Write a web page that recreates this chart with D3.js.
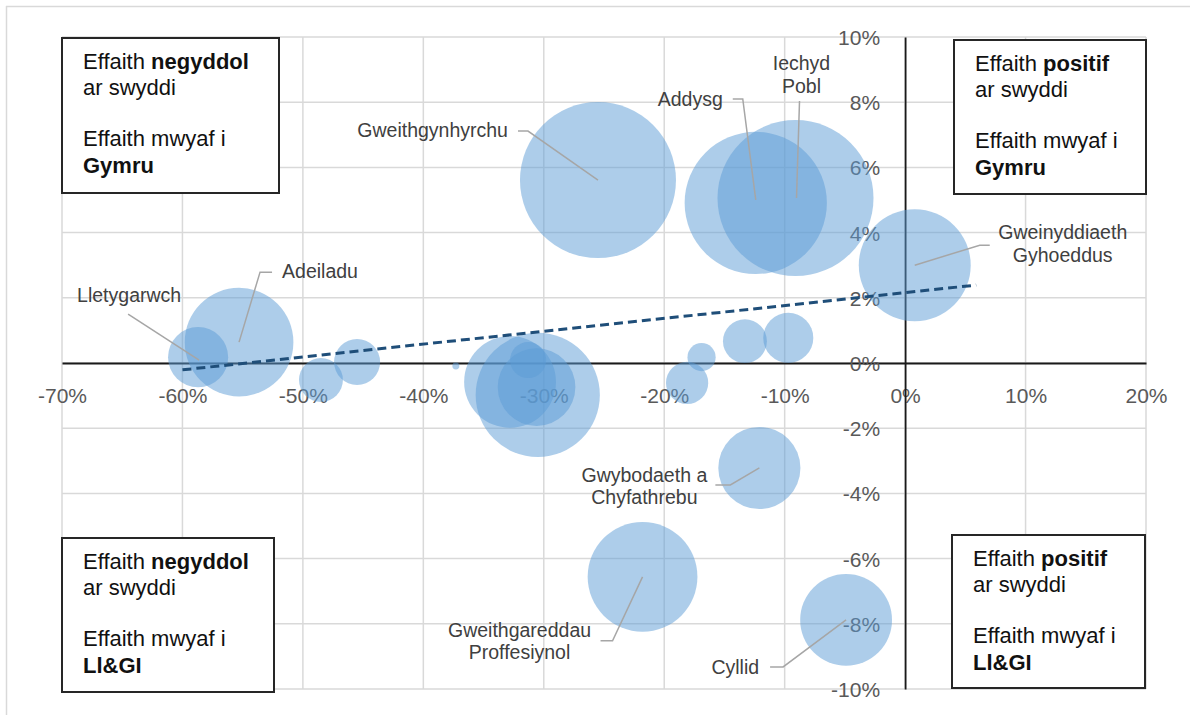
<!DOCTYPE html>
<html>
<head>
<meta charset="utf-8">
<script src="https://cdn.jsdelivr.net/npm/d3@7"></script>
<style>
  html, body { margin: 0; padding: 0; background: #fff; }
  svg { display: block; font-family: "Liberation Sans", Arial, sans-serif; }
</style>
</head>
<body>
<svg id="chart" width="1190" height="715"></svg>
<script>
// ---------------- DATA ----------------
const sectorNames = [
  "Gweithgynhyrchu", "Addysg", "Iechyd Pobl", "Gweinyddiaeth Gyhoeddus",
  "Adeiladu", "Lletygarwch", "Gwybodaeth a Chyfathrebu",
  "Gweithgareddau Proffesiynol", "Cyllid",
  null, null, null, null, null, null, null, null, null, null, null
];
// x: effect on jobs (%), y: extra effect on Wales vs rest (%), size: bubble size
const xValues = [-25.5, -12.4, -9.1, 0.8, -55.3, -58.7, -12.1, -21.8, -4.9,
                 -48.5, -45.5, -37.3, -32.8, -30.5, -30.6, -31.3, -16.9, -18.1, -13.3, -9.7];
const yValues = [5.61, 4.91, 5.06, 3.0, 0.64, 0.18, -3.22, -6.56, -7.88,
                 -0.52, 0.03, -0.09, -0.58, -0.98, -0.74, 0.09, 0.18, -0.61, 0.67, 0.77];
const sizes   = [101, 84, 101, 52, 49, 15, 28, 50, 35,
                 8, 8.8, 0.2, 35, 64, 25, 5.4, 3.3, 7.4, 8, 10.4];

const xTicks = [-70, -60, -50, -40, -30, -20, -10, 0, 10, 20];
const yTicks = [-10, -8, -6, -4, -2, 0, 2, 4, 6, 8, 10];

// trend line end points
const trendX = [-60, 5.9];
const trendY = [-0.21, 2.39];

// quadrant boxes
const boxTexts = [
  { l1a: "Effaith ", l1b: "negyddol", l3: "Effaith mwyaf i", l4: "Gymru" },
  { l1a: "Effaith ", l1b: "positif",  l3: "Effaith mwyaf i", l4: "Gymru" },
  { l1a: "Effaith ", l1b: "negyddol", l3: "Effaith mwyaf i", l4: "Ll&GI" },
  { l1a: "Effaith ", l1b: "positif",  l3: "Effaith mwyaf i", l4: "Ll&GI" }
];

// ---------------- LAYOUT ----------------
const plot = { left: 62, right: 1146, top: 37, bottom: 689 };
const boxRects = [
  { x: 62,  y: 38,  w: 217, h: 155 },
  { x: 954, y: 40,  w: 192, h: 154 },
  { x: 62,  y: 538, w: 212, h: 154 },
  { x: 952, y: 535, w: 193, h: 153 }
];
// label layout: offsets from bubble centre (px)
const labelLayout = {
  0: { lines: ["Gweithgynhyrchu"], anchor: "end", dx: -90, dy: -43, leader: [[-80,-49],[-70,-49],[0,0]] },
  1: { lines: ["Addysg"], anchor: "end", dx: -33, dy: -97, leader: [[-23,-104],[-13,-104],[0,-3]] },
  2: { lines: ["Iechyd", "Pobl"], anchor: "middle", dx: 6, dy: -128, leader: [[4,-97],[1,0]] },
  3: { lines: ["Gweinyddiaeth", "Gyhoeddus"], anchor: "middle", dx: 148, dy: -26, leader: [[75,-20],[65,-20],[0,0]] },
  4: { lines: ["Adeiladu"], anchor: "start", dx: 43, dy: -64, leader: [[33,-70],[21,-70],[0,0]] },
  5: { lines: ["Lletygarwch"], anchor: "start", dx: -121, dy: -55, leader: [[-70,-43],[1,3]] },
  6: { lines: ["Gwybodaeth a", "Chyfathrebu"], anchor: "middle", dx: -115, dy: 14, leader: [[-44,17],[-29,17],[0,0]] },
  7: { lines: ["Gweithgareddau", "Proffesiynol"], anchor: "middle", dx: -123, dy: 60, leader: [[-42,64],[-30,64],[0,0]] },
  8: { lines: ["Cyllid"], anchor: "end", dx: -87, dy: 54, leader: [[-76,47],[-63,47],[0,0]] }
};

// ---------------- DRAW ----------------
const svg = d3.select("#chart");

const x = d3.scaleLinear().domain([-70, 20]).range([plot.left, plot.right]);
const y = d3.scaleLinear().domain([-10, 10]).range([plot.bottom, plot.top]);
const r = d3.scaleSqrt().domain([0, 101]).range([0, 78]);

// outer frame (top & left visible)
svg.append("line").attr("x1", 6).attr("x2", 1190).attr("y1", 6.5).attr("y2", 6.5)
  .attr("stroke", "#d9d9d9").attr("stroke-width", 1.5);
svg.append("line").attr("x1", 6.5).attr("x2", 6.5).attr("y1", 6).attr("y2", 715)
  .attr("stroke", "#d9d9d9").attr("stroke-width", 1.5);

// gridlines
const grid = svg.append("g");
grid.selectAll("line.v").data(xTicks).join("line")
  .attr("x1", d => x(d)).attr("x2", d => x(d))
  .attr("y1", plot.top).attr("y2", plot.bottom)
  .attr("stroke", "#d9d9d9").attr("stroke-width", 1.5);
grid.selectAll("line.h").data(yTicks).join("line")
  .attr("y1", d => y(d)).attr("y2", d => y(d))
  .attr("x1", plot.left).attr("x2", plot.right)
  .attr("stroke", "#d9d9d9").attr("stroke-width", 1.5);

// axes (crossing at 0)
const xAxis = d3.axisBottom(x).tickValues(xTicks).tickSize(0).tickFormat(d => d + "%");
const yAxis = d3.axisLeft(y).tickValues(yTicks).tickSize(0).tickFormat(d => d + "%");

const gx = svg.append("g").attr("transform", `translate(0,${y(0)})`).call(xAxis);
gx.select(".domain").attr("stroke", "#1a1a1a").attr("stroke-width", 1.8);
gx.selectAll("text").attr("font-size", 21).attr("fill", "#595959")
  .attr("font-family", "Liberation Sans, Arial, sans-serif").attr("dy", null).attr("y", 40);

const gy = svg.append("g").attr("transform", `translate(${x(0)},0)`).call(yAxis);
gy.select(".domain").attr("stroke", "#1a1a1a").attr("stroke-width", 1.8);
gy.selectAll("text").attr("font-size", 21).attr("fill", "#595959")
  .attr("font-family", "Liberation Sans, Arial, sans-serif").attr("x", -25).attr("dy", "0.36em");

// bubbles
const data = xValues.map((v, i) => ({ name: sectorNames[i], x: v, y: yValues[i], s: sizes[i], i }));
svg.append("g").selectAll("circle").data(data).join("circle")
  .attr("cx", d => x(d.x)).attr("cy", d => y(d.y)).attr("r", d => r(d.s))
  .attr("fill", "#5b9bd5").attr("fill-opacity", 0.5);

// trend line
svg.append("line")
  .attr("x1", x(trendX[0])).attr("y1", y(trendY[0]))
  .attr("x2", x(trendX[1])).attr("y2", y(trendY[1]))
  .attr("stroke", "#1f4e79").attr("stroke-width", 3)
  .attr("stroke-dasharray", "9,5");

// labels + leaders
const lab = svg.append("g");
data.forEach(d => {
  const L = labelLayout[d.i];
  if (!L) return;
  const cx = x(d.x), cy = y(d.y);
  const pts = L.leader.map(p => [cx + p[0], cy + p[1]]);
  lab.append("path").attr("d", d3.line()(pts))
    .attr("fill", "none").attr("stroke", "#a6a6a6").attr("stroke-width", 1.5);
  const t = lab.append("text")
    .attr("x", cx + L.dx).attr("y", cy + L.dy)
    .attr("text-anchor", L.anchor).attr("font-size", 19.5).attr("fill", "#404040");
  L.lines.forEach((line, k) => {
    t.append("tspan").attr("x", cx + L.dx).attr("dy", k === 0 ? 0 : 22.5).text(line);
  });
});

// quadrant boxes
const boxes = svg.append("g");
boxRects.forEach((b, i) => {
  const bt = boxTexts[i];
  const g = boxes.append("g");
  g.append("rect").attr("x", b.x).attr("y", b.y).attr("width", b.w).attr("height", b.h)
    .attr("fill", "#fff").attr("stroke", "#262626").attr("stroke-width", 2);
  const tx = b.x + 21;
  const t1 = g.append("text").attr("x", tx).attr("y", b.y + 31).attr("font-size", 22).attr("fill", "#111");
  t1.append("tspan").text(bt.l1a);
  t1.append("tspan").attr("font-weight", "bold").text(bt.l1b);
  g.append("text").attr("x", tx).attr("y", b.y + 57).attr("font-size", 22).attr("fill", "#111").text("ar swyddi");
  g.append("text").attr("x", tx).attr("y", b.y + 108).attr("font-size", 22).attr("fill", "#111").text(bt.l3);
  g.append("text").attr("x", tx).attr("y", b.y + 135).attr("font-size", 22).attr("fill", "#111")
    .attr("font-weight", "bold").text(bt.l4);
});
</script>
</body>
</html>
